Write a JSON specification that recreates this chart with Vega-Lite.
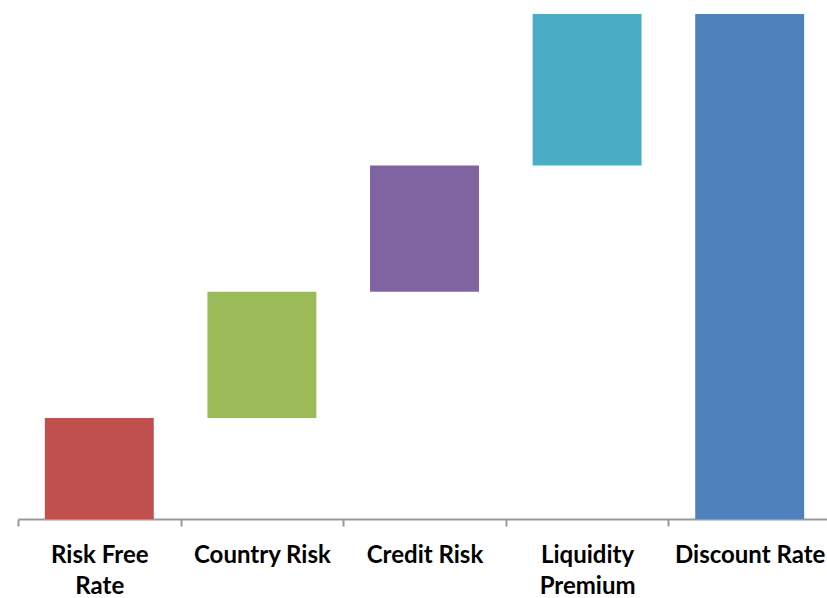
{
  "$schema": "https://vega.github.io/schema/vega-lite/v6.json",
  "width": 813,
  "height": 505,
  "autosize": {"type": "none"},
  "padding": {"left": 18, "top": 14, "right": 0, "bottom": 79},
  "background": "white",
  "data": {
    "values": [
      {"step": "Risk Free Rate", "start": 0, "end": 4, "kind": "rf"},
      {"step": "Country Risk", "start": 4, "end": 9, "kind": "country"},
      {"step": "Credit Risk", "start": 9, "end": 14, "kind": "credit"},
      {"step": "Liquidity Premium", "start": 14, "end": 20, "kind": "liquidity"},
      {"step": "Discount Rate", "start": 0, "end": 20, "kind": "total"}
    ]
  },
  "mark": {"type": "bar", "width": {"band": 0.67}},
  "encoding": {
    "x": {
      "field": "step",
      "type": "nominal",
      "sort": null,
      "scale": {"paddingInner": 0, "paddingOuter": 0},
      "axis": {
        "title": null,
        "labelAngle": 0,
        "tickBand": "extent",
        "domainColor": "#999999",
        "domainWidth": 2,
        "tickColor": "#999999",
        "tickWidth": 2,
        "tickSize": 7,
        "labelPadding": 17,
        "labelFont": "Lato",
        "labelFontWeight": "bold",
        "labelFontSize": 24,
        "labelColor": "#000000",
        "labelLineHeight": 31,
        "labelLimit": 300,
        "labelExpr": "datum.label == 'Risk Free Rate' ? ['Risk Free', 'Rate'] : datum.label == 'Liquidity Premium' ? ['Liquidity', 'Premium'] : datum.label"
      }
    },
    "y": {
      "field": "start",
      "type": "quantitative",
      "scale": {"domain": [0, 20], "nice": false, "zero": true},
      "axis": null
    },
    "y2": {"field": "end"},
    "color": {
      "field": "kind",
      "type": "nominal",
      "scale": {
        "domain": ["rf", "country", "credit", "liquidity", "total"],
        "range": ["#C0504D", "#9BBB59", "#8064A2", "#4BACC6", "#4F81BD"]
      },
      "legend": null
    }
  },
  "config": {"view": {"stroke": null}}
}
